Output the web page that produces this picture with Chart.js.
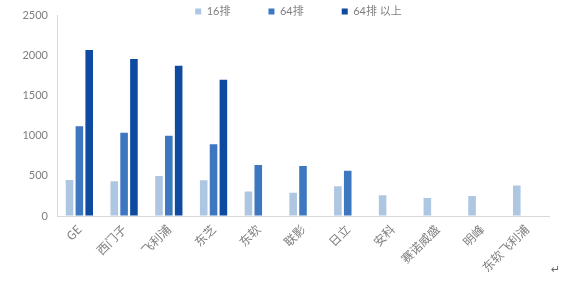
<!DOCTYPE html>
<html>
<head>
<meta charset="utf-8">
<script src="https://cdn.jsdelivr.net/npm/chart.js@4.4.0/dist/chart.umd.min.js"></script>
<style>
  html, body { margin: 0; padding: 0; background: #fff; }
  #wrap { position: relative; width: 586px; height: 281px; }
  #mark { position: absolute; left: 551px; top: 263px; font: 11px "DejaVu Sans"; color: #666; }
</style>
</head>
<body>
<div id="wrap">
  <canvas id="myChart" width="586" height="281"></canvas>
  <span id="mark">↵</span>
</div>
<script>
var brands = ['GE', '西门子', '飞利浦', '东芝', '东软', '联影', '日立', '安科', '赛诺威盛', '明峰', '东软飞利浦'];
var slice16 = [450, 435, 500, 445, 305, 290, 370, 260, 225, 250, 380];
var slice64 = [1120, 1040, 1000, 895, 635, 625, 565, null, null, null, null];
var slice64up = [2070, 1960, 1875, 1700, null, null, null, null, null, null, null];
var yTicks = [0, 500, 1000, 1500, 2000, 2500];

var grey = '#7f7f7f';
var fontFam = 'Lato, "Noto Sans CJK SC", sans-serif';

// legend sits over the top of the plot like in the original, so move its box after layout
var legendShift = {
    id: 'legendShift',
    afterLayout: function (chart) {
        var l = chart.legend;
        l.top = -32;
        l.bottom = 30;
        l.left += 24;
        l.right += 24;
    }
};

var ctx = document.getElementById('myChart').getContext('2d');
new Chart(ctx, {
    type: 'bar',
    data: {
        labels: brands,
        datasets: [{
            label: '16排',
            backgroundColor: '#adc6e2',
            data: slice16
        }, {
            label: '64排',
            backgroundColor: '#3c77c0',
            data: slice64
        }, {
            label: '64排 以上',
            backgroundColor: '#0e4aa0',
            data: slice64up
        }]
    },
    plugins: [legendShift],
    options: {
        responsive: false,
        animation: false,
        layout: { padding: { top: 0, left: 0, right: 37, bottom: 0 } },
        datasets: {
            bar: { categoryPercentage: 0.66, barPercentage: 0.77 }
        },
        plugins: {
            tooltip: { enabled: false },
            legend: {
                position: 'top',
                maxHeight: 10,
                labels: {
                    boxWidth: 6,
                    boxHeight: 6,
                    padding: 38,
                    color: grey,
                    font: { family: fontFam, size: 11 }
                }
            }
        },
        scales: {
            x: {
                grid: { display: true, drawOnChartArea: false, drawTicks: false },
                border: { color: '#d9d9d9', width: 1 },
                ticks: {
                    color: grey,
                    minRotation: 45,
                    maxRotation: 45,
                    padding: 6,
                    font: { family: '"Noto Sans CJK SC", sans-serif', size: 12 }
                },
                afterFit: function (s) { s.height = 65; }
            },
            y: {
                min: 0,
                max: 2500,
                afterBuildTicks: function (s) { s.ticks = yTicks.map(function (v) { return { value: v }; }); },
                grid: { display: true, drawOnChartArea: false, drawTicks: false },
                border: { color: '#d9d9d9', width: 1 },
                ticks: {
                    color: grey,
                    padding: 9,
                    font: { family: fontFam, size: 11 },
                    callback: function (v) { return String(v); }
                },
                afterFit: function (s) { s.width = 57; }
            }
        }
    }
});
</script>
</body>
</html>
